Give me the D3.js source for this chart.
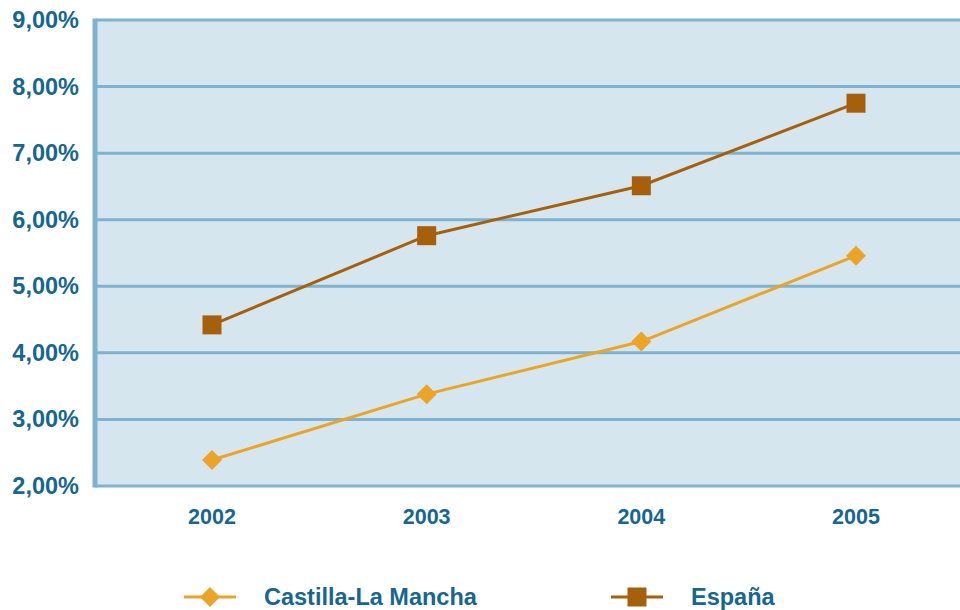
<!DOCTYPE html>
<html>
<head>
<meta charset="utf-8">
<script src="https://cdn.jsdelivr.net/npm/d3@7"></script>
<style>
  body { margin: 0; background: #fff; }
  text { font-family: "Liberation Sans", Arial, sans-serif; font-weight: bold; fill: #17668f; }
</style>
</head>
<body>
<div id="chart"></div>
<script>
// data
var years = ["2002", "2003", "2004", "2005"];
var castilla = [2.39, 3.38, 4.17, 5.46];
var espana = [4.42, 5.76, 6.51, 7.75];
var yTicks = [2, 3, 4, 5, 6, 7, 8, 9];

var W = 960, H = 610;
var plotLeft = 95, plotTop = 20, plotBottom = 486, plotRight = 960;

var svg = d3.select("#chart").append("svg")
    .attr("width", W).attr("height", H);

var x = d3.scalePoint().domain(years).range([212, 856]);
var y = d3.scaleLinear().domain([2, 9]).range([plotBottom, plotTop]);

// background
svg.append("rect")
    .attr("x", plotLeft).attr("y", y(9))
    .attr("width", plotRight - plotLeft).attr("height", y(2) - y(9))
    .attr("fill", "#d6e6ef");

// gridlines
svg.selectAll(".grid")
    .data(yTicks)
  .enter().append("line")
    .attr("x1", plotLeft).attr("x2", plotRight)
    .attr("y1", function(d) { return y(d); })
    .attr("y2", function(d) { return y(d); })
    .attr("stroke", "#7db3d0")
    .attr("stroke-width", 3);

// left axis
svg.append("line")
    .attr("x1", plotLeft).attr("x2", plotLeft)
    .attr("y1", y(9) - 1.5).attr("y2", y(2) + 1.5)
    .attr("stroke", "#7db3d0")
    .attr("stroke-width", 5);

// y labels
svg.selectAll(".ylab")
    .data(yTicks)
  .enter().append("text")
    .attr("x", 79)
    .attr("y", function(d) { return y(d) + 8; })
    .attr("text-anchor", "end")
    .style("font-size", "23.5px")
    .text(function(d) { return d.toFixed(2).replace(".", ",") + "%"; });

// x labels
svg.selectAll(".xlab")
    .data(years)
  .enter().append("text")
    .attr("x", function(d) { return x(d); })
    .attr("y", 524)
    .attr("text-anchor", "middle")
    .style("font-size", "21.5px")
    .text(function(d) { return d; });

var line = d3.line()
    .x(function(d, i) { return x(years[i]); })
    .y(function(d) { return y(d); });

function drawSeries(vals, color, shape) {
  svg.append("path")
      .datum(vals)
      .attr("d", line)
      .attr("fill", "none")
      .attr("stroke", color)
      .attr("stroke-width", 3);
  svg.selectAll(null)
      .data(vals)
    .enter().append("path")
      .attr("transform", function(d, i) { return "translate(" + x(years[i]) + "," + y(d) + ")"; })
      .attr("d", shape)
      .attr("fill", color);
}

var diamond = "M0,-10L10,0L0,10L-10,0Z";
var square = "M-9.5,-9.5H9.5V9.5H-9.5Z";

drawSeries(castilla, "#eba427", diamond);
drawSeries(espana, "#a6600b", square);

// legend
var legend = [
  { name: "Castilla-La Mancha", color: "#eba427", shape: diamond, x: 210 },
  { name: "España", color: "#a6600b", shape: square, x: 637 }
];
var ly = 597;
legend.forEach(function(l) {
  svg.append("line")
      .attr("x1", l.x - 26).attr("x2", l.x + 26)
      .attr("y1", ly).attr("y2", ly)
      .attr("stroke", l.color).attr("stroke-width", 3);
  svg.append("path")
      .attr("transform", "translate(" + l.x + "," + ly + ")")
      .attr("d", l.shape)
      .attr("fill", l.color);
  svg.append("text")
      .attr("x", l.x + 54)
      .attr("y", ly + 8)
      .style("font-size", "23.5px")
      .text(l.name);
});
</script>
</body>
</html>
